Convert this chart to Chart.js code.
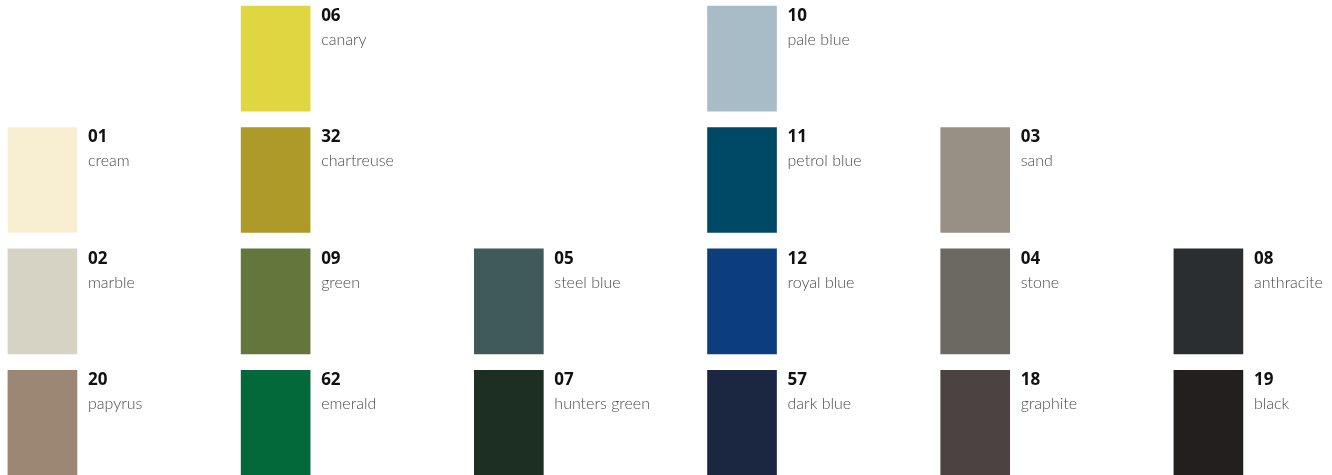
<!DOCTYPE html>
<html>
<head>
<meta charset="utf-8">
<script src="https://cdn.jsdelivr.net/npm/chart.js@4"></script>
<style>
  html, body { margin: 0; padding: 0; background: #fff; }
  #wrap { width: 1332px; height: 475px; }
</style>
</head>
<body>
<div id="wrap"><canvas id="swatches"></canvas></div>
<script>
// swatch data
const codes = ["06", "10", "01", "32", "11", "03", "02", "09", "05", "12", "04", "08", "20", "62", "07", "57", "18", "19"];
const names = ["canary", "pale blue", "cream", "chartreuse", "petrol blue", "sand", "marble", "green", "steel blue", "royal blue", "stone", "anthracite", "papyrus", "emerald", "hunters green", "dark blue", "graphite", "black"];
const colours = ["#dfd640", "#a8bcc8", "#f8efd3", "#ad9a28", "#004966", "#988f85", "#d7d3c4", "#63763c", "#40595b", "#0c3e7e", "#6c6862", "#2b2e30", "#9c8775", "#03693b", "#1c2f22", "#1b2640", "#4a4341", "#231f1e"];
const cols = [1, 3, 0, 1, 3, 4, 0, 1, 2, 3, 4, 5, 0, 1, 2, 3, 4, 5];
const rows = [0, 0, 1, 1, 1, 1, 2, 2, 2, 2, 2, 2, 3, 3, 3, 3, 3, 3];

const SWATCH_H = 0.865;

const labelPlugin = {
  id: "swatchLabels",
  afterDatasetsDraw(chart) {
    const ctx = chart.ctx;
    const meta = chart.getDatasetMeta(0);
    ctx.save();
    ctx.textAlign = "left";
    ctx.textBaseline = "alphabetic";
    meta.data.forEach((bar, i) => {
      const left = bar.x + bar.width / 2 + 11;
      const top = Math.min(bar.y, bar.base);
      ctx.fillStyle = "#111";
      ctx.font = "bold 17px 'Open Sans', sans-serif";
      ctx.fillText(codes[i], left, top + 15);
      ctx.fillStyle = "#4a4a4a";
      ctx.font = "300 16px Lato, sans-serif";
      ctx.fillText(names[i], left, top + 39);
    });
    ctx.restore();
  }
};

const config = {
  type: "bar",
  data: {
    datasets: [
      {
        data: codes.map((c, i) => ({ x: cols[i], y: [rows[i], rows[i] + SWATCH_H] })),
        backgroundColor: colours,
        borderWidth: 0,
        barThickness: 69,
        grouped: false,
      },
    ],
  },
  options: {
    responsive: true,
    maintainAspectRatio: false,
    animation: false,
    layout: { padding: 0 },
    plugins: {
      legend: { display: false },
      tooltip: { enabled: false },
    },
    scales: {
      x: {
        type: "linear",
        offset: false,
        bounds: "data",
        min: -0.182,
        max: 5.53,
        display: false,
      },
      y: {
        type: "linear",
        reverse: true,
        min: -0.05,
        max: 3.863,
        display: false,
      },
    },
  },
  plugins: [labelPlugin],
};

new Chart(document.getElementById("swatches"), config);
</script>
</body>
</html>
